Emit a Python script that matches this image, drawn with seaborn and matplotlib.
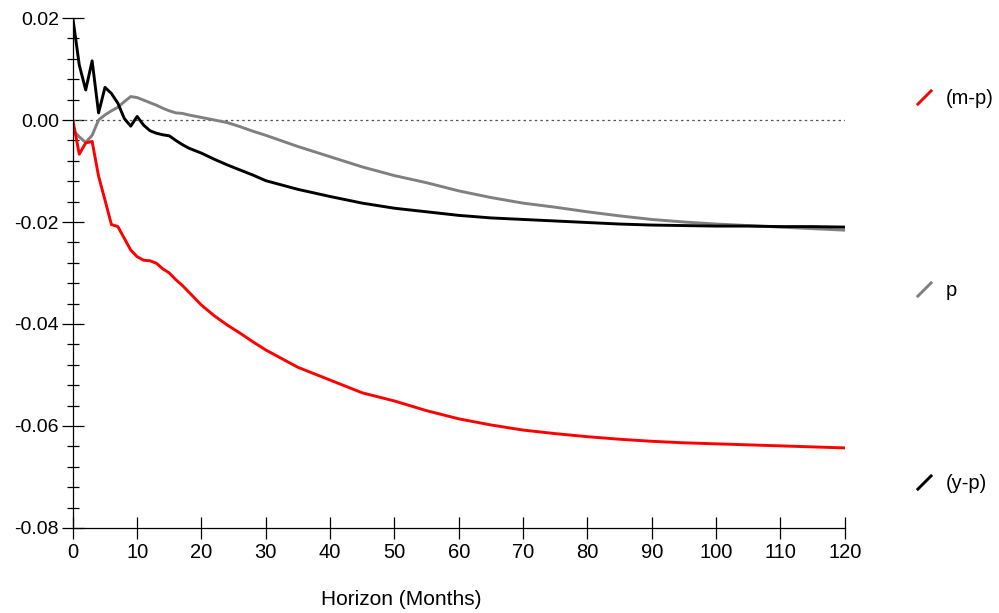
import pandas as pd
import numpy as np
import matplotlib.pyplot as plt
from matplotlib.lines import Line2D
from matplotlib.ticker import MultipleLocator
import seaborn as sns

# horizonte (meses) e respostas
horizon = [0, 1, 2, 3, 4, 5, 6, 7, 8, 9, 10, 11, 12, 13, 14, 15, 16, 17, 18,
           20, 22, 24, 26, 28, 30, 35, 40, 45, 50, 55, 60, 65, 70, 75, 80,
           85, 90, 95, 100, 105, 110, 115, 120]

m_p = [0.0000, -0.0067, -0.0045, -0.0042, -0.0110, -0.0157, -0.0205, -0.0209,
       -0.0232, -0.0255, -0.0268, -0.0275, -0.0276, -0.0281, -0.0292, -0.0300,
       -0.0313, -0.0324, -0.0337, -0.0363, -0.0384, -0.0402, -0.0418, -0.0435,
       -0.0451, -0.0485, -0.0510, -0.0535, -0.0551, -0.0570, -0.0586, -0.0598,
       -0.0608, -0.0615, -0.0621, -0.0626, -0.0630, -0.0633, -0.0635, -0.0637,
       -0.0639, -0.0641, -0.0643]

p = [-0.0020, -0.0033, -0.0044, -0.0030, 0.0000, 0.0010, 0.0018, 0.0025,
     0.0036, 0.0046, 0.0044, 0.0039, 0.0034, 0.0029, 0.0023, 0.0018, 0.0014,
     0.0013, 0.0010, 0.0005, 0.0000, -0.0005, -0.0013, -0.0022, -0.0030,
     -0.0052, -0.0072, -0.0092, -0.0109, -0.0123, -0.0139, -0.0152, -0.0163,
     -0.0171, -0.0180, -0.0188, -0.0195, -0.0200, -0.0204, -0.0207, -0.0210,
     -0.0213, -0.0216]

y_p = [0.0200, 0.0108, 0.0059, 0.0116, 0.0014, 0.0064, 0.0052, 0.0033, 0.0003,
       -0.0012, 0.0007, -0.0010, -0.0021, -0.0026, -0.0029, -0.0031, -0.0040,
       -0.0048, -0.0055, -0.0065, -0.0077, -0.0088, -0.0098, -0.0108, -0.0119,
       -0.0136, -0.0150, -0.0163, -0.0173, -0.0180, -0.0187, -0.0192, -0.0195,
       -0.0198, -0.0201, -0.0204, -0.0206, -0.0207, -0.0208, -0.0208, -0.0209,
       -0.0209, -0.0210]

labels = ['(m-p)', 'p', '(y-p)']
cores = ['#ff0000', '#808080', '#000000']
y_ticks = [0.02, 0.00, -0.02, -0.04, -0.06, -0.08]
y_ticklabels = ['0.02', '0.00', '-0.02', '-0.04', '-0.06', '-0.08']

dados = pd.DataFrame({'Horizon': horizon, '(m-p)': m_p, 'p': p, '(y-p)': y_p})

sns.set_style('ticks')
plt.rcParams['font.family'] = ['Liberation Sans', 'DejaVu Sans']
plt.rcParams['text.color'] = 'black'
plt.rcParams['xtick.color'] = 'black'
plt.rcParams['ytick.color'] = 'black'

fig = plt.figure(figsize=(9.99, 6.13), dpi=100)
ax = fig.add_axes([0.0729, 0.1387, 0.7727, 0.8319])

ax.axhline(0, color='#555555', linestyle=(0, (2, 2.5)), linewidth=0.9, zorder=1)

# desenha na ordem p, (m-p), (y-p)
for nome, cor in [('p', '#808080'), ('(m-p)', '#ff0000'), ('(y-p)', '#000000')]:
    sns.lineplot(data=dados, x='Horizon', y=nome, color=cor, linewidth=2.1,
                 ax=ax, legend=False)

ax.set_xlim(0, 120)
ax.set_ylim(-0.08, 0.02)
ax.xaxis.set_major_locator(MultipleLocator(10))
ax.yaxis.set_minor_locator(MultipleLocator(0.004))
ax.set_yticks(y_ticks)
ax.set_yticklabels(y_ticklabels)

ax.tick_params(axis='both', which='major', direction='inout', length=16,
               width=0.9, color='black', labelcolor='black')
ax.tick_params(axis='y', which='major', labelsize=14, pad=2)
ax.tick_params(axis='x', which='major', labelsize=14.5, pad=3)
ax.tick_params(axis='y', which='minor', direction='inout', length=8.5,
               width=0.9, color='black')
ax.tick_params(axis='x', which='minor', length=0)

for lado in ['top', 'right']:
    ax.spines[lado].set_visible(False)
for lado in ['left', 'bottom']:
    ax.spines[lado].set_linewidth(0.9)
    ax.spines[lado].set_color('black')

ax.set_xlabel('Horizon (Months)', fontsize=15, color='black')
ax.xaxis.set_label_coords(0.426, -0.122)
ax.set_ylabel('')

# legenda com traços diagonais
handles = [Line2D([], [], linestyle='None', marker=[(-1, -1), (1, 1)],
                  markersize=11, markeredgewidth=2.1, markeredgecolor=c,
                  color=c) for c in cores]
fig.legend(handles, labels, loc='center left', bbox_to_anchor=(0.915, 0.5253),
           frameon=False, fontsize=14.5, handlelength=1.0, handletextpad=0.55,
           labelspacing=8.6, borderpad=0, borderaxespad=0)

fig.savefig('out.png', dpi=100)
plt.close()
